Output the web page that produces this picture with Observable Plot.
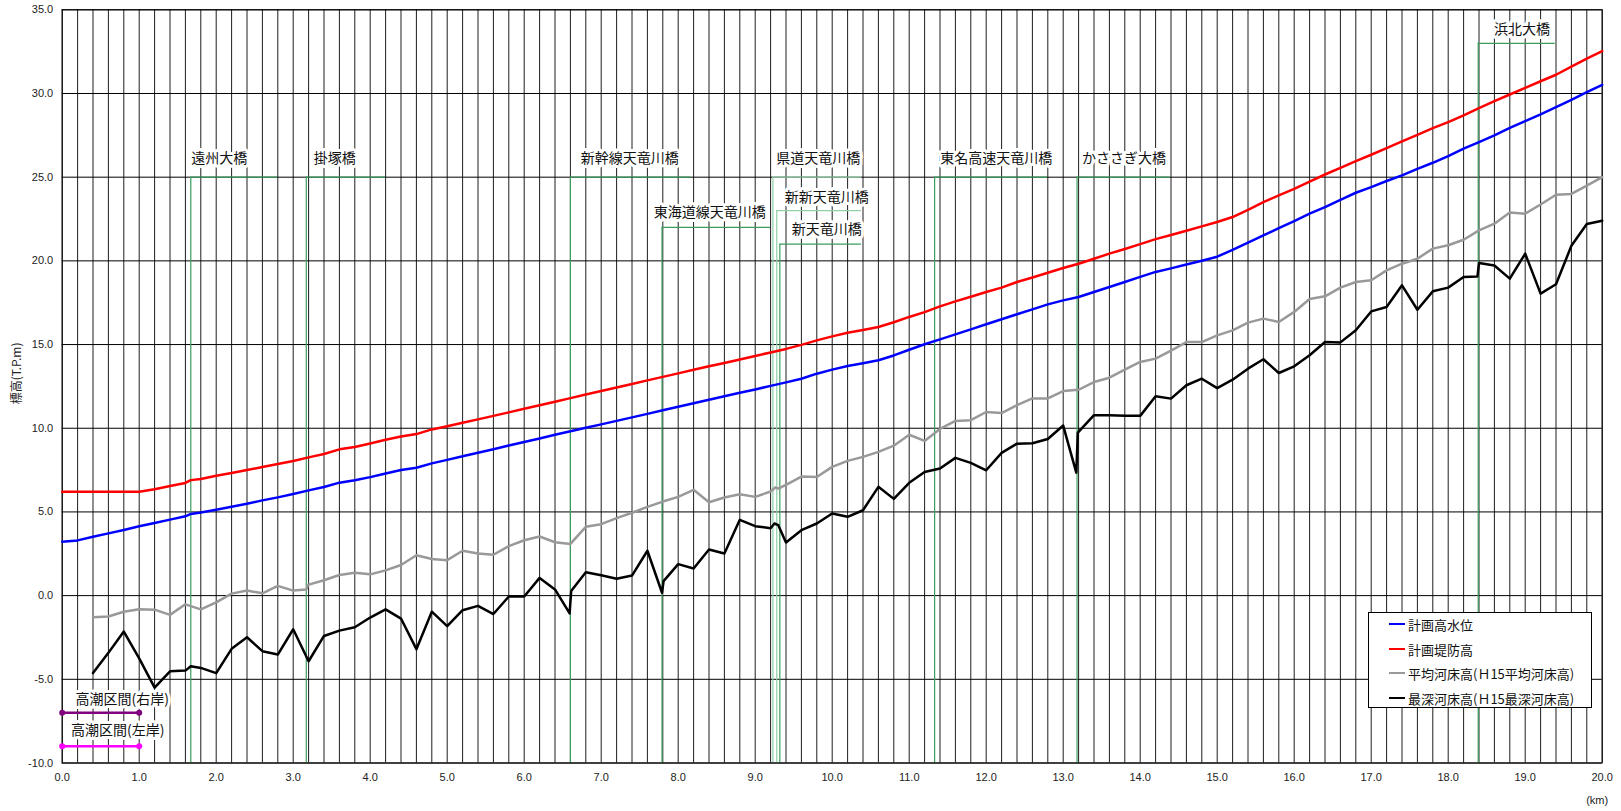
<!DOCTYPE html>
<html><head><meta charset="utf-8">
<script src="https://cdn.jsdelivr.net/npm/d3@7"></script>
<script src="https://cdn.jsdelivr.net/npm/@observablehq/plot@0.6"></script>
<style>
body{margin:0;background:#fff;}
#wrap{position:relative;width:1621px;height:811px;overflow:hidden;background:#fff;}
#legend{position:absolute;left:1368px;top:612px;width:222px;height:94px;border:1px solid #000;background:#fff;font-family:"Noto Sans CJK JP",sans-serif;font-size:13px;color:#111;}
.row{position:absolute;left:20px;height:20px;display:flex;align-items:center;white-space:nowrap;}
.sw{width:16px;height:0;border-top:2.5px solid;margin-right:3px;}
</style></head><body><div id="wrap"><div id="legend"></div></div>
<script>
// ---- axis ticks ----
const xTicks = [0,1,2,3,4,5,6,7,8,9,10,11,12,13,14,15,16,17,18,19,20];
const yTicks = [-10,-5,0,5,10,15,20,25,30,35];
const yDomain = [-10, 35];
const gridKm = d3.range(0, 101).map(i => i / 5);

// ---- 計画高水位 / 計画堤防高 ----
const planKm = [0.0,0.2,0.4,0.6,0.8,1.0,1.2,1.4,1.6,1.67,
 1.8,2.0,2.2,2.4,2.6,2.8,3.0,3.2,3.4,3.6,
 3.8,4.0,4.2,4.4,4.6,4.8,5.0,5.2,5.4,5.6,
 5.8,6.0,6.2,6.4,6.6,6.8,7.0,7.2,7.4,7.6,
 7.8,8.0,8.2,8.4,8.6,8.8,9.0,9.2,9.4,9.6,
 9.8,10.0,10.2,10.4,10.6,10.8,11.0,11.2,11.4,11.6,
 11.8,12.0,12.2,12.4,12.6,12.8,13.0,13.2,13.4,13.6,
 13.8,14.0,14.2,14.4,14.6,14.8,15.0,15.2,15.4,15.6,
 15.8,16.0,16.2,16.4,16.6,16.8,17.0,17.2,17.4,17.6,
 17.8,18.0,18.2,18.4,18.6,18.8,19.0,19.2,19.4,19.6,
 19.8,20.0];
const leveeVals = [6.20,6.20,6.20,6.20,6.20,6.20,6.35,6.55,6.73,6.90,
 6.97,7.16,7.32,7.50,7.68,7.86,8.04,8.26,8.46,8.74,
 8.88,9.09,9.31,9.51,9.65,9.93,10.12,10.33,10.53,10.74,
 10.95,11.16,11.37,11.58,11.80,12.02,12.22,12.43,12.64,12.86,
 13.07,13.28,13.49,13.70,13.90,14.11,14.32,14.53,14.74,14.98,
 15.25,15.49,15.71,15.87,16.05,16.33,16.65,16.94,17.28,17.58,
 17.86,18.14,18.40,18.74,19.01,19.29,19.57,19.83,20.13,20.43,
 20.71,21.00,21.30,21.55,21.80,22.06,22.32,22.62,23.05,23.51,
 23.91,24.30,24.74,25.16,25.56,25.96,26.34,26.74,27.14,27.53,
 27.93,28.29,28.69,29.12,29.54,29.94,30.34,30.73,31.12,31.60,
 32.08,32.53];
const hwlVals = [3.22,3.30,3.52,3.72,3.92,4.14,4.34,4.54,4.74,4.88,
 4.96,5.13,5.31,5.49,5.69,5.87,6.07,6.29,6.49,6.75,
 6.89,7.08,7.30,7.50,7.64,7.90,8.11,8.33,8.54,8.75,
 8.97,9.18,9.39,9.61,9.82,10.03,10.23,10.44,10.65,10.86,
 11.07,11.28,11.49,11.70,11.91,12.12,12.32,12.53,12.74,12.96,
 13.26,13.50,13.72,13.88,14.06,14.35,14.69,15.02,15.31,15.61,
 15.91,16.21,16.51,16.81,17.10,17.40,17.64,17.84,18.14,18.44,
 18.74,19.04,19.34,19.55,19.78,20.01,20.25,20.66,21.09,21.52,
 21.96,22.38,22.82,23.21,23.65,24.07,24.41,24.77,25.11,25.50,
 25.86,26.26,26.70,27.10,27.50,27.95,28.35,28.75,29.18,29.62,
 30.08,30.52];

// ---- 平均河床高 ----
const avgKm = [0.4,0.6,0.8,1.0,1.2,1.4,1.6,1.8,2.0,2.2,
 2.4,2.6,2.8,3.0,3.17,3.19,3.4,3.6,3.8,4.0,
 4.2,4.4,4.6,4.8,5.0,5.2,5.4,5.6,5.8,6.0,
 6.2,6.4,6.6,6.8,7.0,7.2,7.4,7.6,7.8,8.0,
 8.2,8.4,8.6,8.8,9.0,9.2,9.26,9.3,9.4,9.6,
 9.8,10.0,10.2,10.4,10.6,10.8,11.0,11.2,11.4,11.6,
 11.8,12.0,12.2,12.4,12.6,12.8,13.0,13.2,13.4,13.6,
 13.8,14.0,14.2,14.4,14.6,14.8,15.0,15.2,15.4,15.6,
 15.8,16.0,16.2,16.4,16.6,16.8,17.0,17.2,17.4,17.6,
 17.8,18.0,18.2,18.4,18.6,18.8,19.0,19.2,19.4,19.6,
 19.8,20.0];
const avgVals = [-1.29,-1.25,-0.96,-0.82,-0.84,-1.15,-0.52,-0.82,-0.40,0.12,
 0.30,0.14,0.58,0.30,0.36,0.64,0.92,1.23,1.37,1.27,
 1.51,1.83,2.41,2.19,2.12,2.68,2.52,2.44,2.96,3.31,
 3.53,3.19,3.09,4.11,4.27,4.63,4.95,5.30,5.62,5.90,
 6.32,5.58,5.86,6.06,5.90,6.22,6.46,6.40,6.62,7.11,
 7.09,7.69,8.05,8.29,8.59,8.96,9.61,9.24,9.96,10.44,
 10.48,10.97,10.91,11.38,11.78,11.78,12.22,12.30,12.76,13.02,
 13.50,13.96,14.16,14.64,15.15,15.15,15.55,15.85,16.31,16.55,
 16.35,16.95,17.72,17.88,18.40,18.74,18.84,19.43,19.83,20.13,
 20.73,20.93,21.26,21.82,22.22,22.89,22.82,23.37,23.95,24.00,
 24.50,25.00];

// ---- 最深河床高 ----
const deepKm = [0.4,0.6,0.8,1.0,1.2,1.4,1.6,1.67,1.8,2.0,
 2.2,2.4,2.6,2.8,3.0,3.2,3.4,3.6,3.8,4.0,
 4.2,4.4,4.6,4.8,5.0,5.2,5.4,5.6,5.8,6.0,
 6.2,6.4,6.59,6.61,6.8,7.0,7.2,7.4,7.6,7.79,
 7.81,8.0,8.2,8.4,8.6,8.8,9.0,9.2,9.25,9.3,
 9.4,9.6,9.8,10.0,10.2,10.4,10.6,10.8,11.0,11.2,
 11.4,11.6,11.8,12.0,12.2,12.4,12.6,12.8,13.0,13.17,
 13.19,13.4,13.6,13.8,14.0,14.2,14.4,14.6,14.8,15.0,
 15.2,15.4,15.6,15.8,16.0,16.2,16.4,16.6,16.8,17.0,
 17.2,17.4,17.6,17.8,18.0,18.2,18.38,18.4,18.6,18.8,
 19.0,19.2,19.4,19.6,19.8,20.0];
const deepVals = [-4.63,-3.42,-2.15,-3.75,-5.50,-4.52,-4.48,-4.22,-4.32,-4.63,
 -3.18,-2.49,-3.32,-3.52,-2.01,-3.92,-2.41,-2.09,-1.89,-1.31,
 -0.82,-1.37,-3.20,-0.96,-1.82,-0.87,-0.61,-1.10,-0.05,-0.05,
 1.06,0.37,-1.06,0.27,1.40,1.22,1.01,1.20,2.68,0.17,
 0.87,1.88,1.62,2.76,2.52,4.53,4.15,4.03,4.31,4.21,
 3.17,3.91,4.31,4.91,4.71,5.10,6.50,5.78,6.74,7.39,
 7.59,8.23,7.93,7.49,8.53,9.08,9.10,9.36,10.16,7.35,
 9.74,10.78,10.78,10.74,10.74,11.91,11.77,12.57,12.96,12.40,
 12.90,13.56,14.12,13.30,13.70,14.36,15.15,15.13,15.85,16.98,
 17.24,18.54,17.08,18.18,18.40,19.04,19.07,19.87,19.72,18.94,
 20.43,18.04,18.60,20.90,22.20,22.40];

// ---- 橋梁 ----
const bridgeNames = ["遠州大橋","掛塚橋","新幹線天竜川橋","東海道線天竜川橋","県道天竜川橋","新新天竜川橋","新天竜川橋","東名高速天竜川橋","かささぎ大橋","浜北大橋"];
const bridgeKm    = [1.67, 3.17, 6.60, 7.79, 9.23, 9.28, 9.32, 11.33, 13.18, 18.39];
const bridgeLevel = [25, 25, 25, 22, 25, 23, 21, 25, 25, 33];
const bridgeEnd   = [2.80, 4.20, 8.17, 9.20, 10.38, 10.38, 10.38, 12.80, 14.39, 19.39];
const bridgeLabelKm = [2.04, 3.54, 7.37, 8.41, 9.82, 9.93, 9.93, 12.13, 13.79, 18.96];
const bridgeLabelY  = [26.1, 26.1, 26.1, 22.9, 26.1, 23.8, 21.9, 26.1, 26.1, 33.8];
const bridgeColor = ["#3a9d5d","#3a9d5d","#3a9d5d","#3a9d5d","#8fd0a8","#8fd0a8","#3a9d5d","#3a9d5d","#3a9d5d","#3a9d5d"];

// ---- 高潮区間 ----
const stormKm = [0.0, 1.0];
const stormNames = ["高潮区間(右岸)", "高潮区間(左岸)"];
const stormLevel = [-7.0, -9.0];
const stormColor = ["#800080", "#ff00ff"];
const stormLabelKm = [0.78, 0.72];
const stormLabelY = [-6.2, -8.05];

// ---- legend ----
const legendNames = ["計画高水位","計画堤防高","平均河床高(Ｈ15平均河床高)","最深河床高(Ｈ15最深河床高)"];
const legendColors = ["#0000ff","#ff0000","#999999","#000000"];

const levee = planKm.map((k,i) => ({km:k, v:leveeVals[i]}));
const hwl = planKm.map((k,i) => ({km:k, v:hwlVals[i]}));
const avg = avgKm.map((k,i) => ({km:k, v:avgVals[i]}));
const deep = deepKm.map((k,i) => ({km:k, v:deepVals[i]}));
const bridges = bridgeNames.map((n,i) => ({name:n, km:bridgeKm[i], level:bridgeLevel[i], end:bridgeEnd[i], lx:bridgeLabelKm[i], ly:bridgeLabelY[i], color:bridgeColor[i]}));
const storms = stormNames.map((n,i) => ({name:n, level:stormLevel[i], color:stormColor[i], lx:stormLabelKm[i], ly:stormLabelY[i]}));
const stormPts = storms.flatMap(s => stormKm.map(k => ({km:k, v:s.level, color:s.color, name:s.name})));

const CJK = "'Noto Sans CJK JP', sans-serif";

const plot = Plot.plot({
  width: 1621, height: 811,
  marginLeft: 61.7, marginRight: 19.3, marginTop: 9.3, marginBottom: 48.5,
  x: {domain: [0, 20]},
  y: {domain: yDomain},
  color: {type: "identity"},
  style: {fontFamily: "'Liberation Sans', Arial, sans-serif", fontSize: "11px", color: "#222", background: "#fff"},
  marks: [
    Plot.ruleX(gridKm, {stroke: "#1e1e1e", strokeWidth: 1}),
    Plot.ruleY(yTicks, {stroke: "#000", strokeWidth: 1}),
    Plot.ruleX(bridges, {x: "km", y1: yDomain[0], y2: "level", stroke: "color", strokeWidth: 1.2}),
    Plot.ruleY(bridges, {y: "level", x1: "km", x2: "end", stroke: "color", strokeWidth: 1.3}),
    Plot.frame({stroke: "#000"}),
    Plot.line(avg, {x: "km", y: "v", stroke: "#999999", strokeWidth: 2.5}),
    Plot.line(deep, {x: "km", y: "v", stroke: "#000000", strokeWidth: 2.5}),
    Plot.line(hwl, {x: "km", y: "v", stroke: "#0000ff", strokeWidth: 2.5}),
    Plot.line(levee, {x: "km", y: "v", stroke: "#ff0000", strokeWidth: 2.5}),
    Plot.line(stormPts, {x: "km", y: "v", z: "name", stroke: "color", strokeWidth: 2.5}),
    Plot.dot(stormPts, {x: "km", y: "v", fill: "color", r: 3}),
    Plot.text(bridges, {x: "lx", y: "ly", text: "name", fontFamily: CJK, fontSize: 14, fill: "#111", stroke: "white", strokeWidth: 6}),
    Plot.text(storms, {x: "lx", y: "ly", text: "name", fontFamily: CJK, fontSize: 14, fill: "#111", stroke: "white", strokeWidth: 6}),
    Plot.axisX(xTicks, {tickFormat: d => d.toFixed(1), tickSize: 0, tickPadding: 10, label: null}),
    Plot.axisY(yTicks, {tickFormat: d => d.toFixed(1), tickSize: 0, tickPadding: 9, label: null}),
    Plot.text(["標高(T.P.m)"], {frameAnchor: "left", dx: -44.7, dy: -13, rotate: -90, textAnchor: "middle", lineAnchor: "middle", fontFamily: CJK, fontSize: 12, fill: "#222"}),
    Plot.text(["(km)"], {frameAnchor: "bottom-right", dx: -5, dy: 37.5, textAnchor: "middle", lineAnchor: "middle", fontSize: 11, fill: "#222", ariaLabel: "km-label"})
  ]
});

const wrap = document.getElementById("wrap");
wrap.insertBefore(plot, wrap.firstChild);
d3.select(plot).selectAll('g[aria-label="km-label"] text').style("letter-spacing", "2px");

const legend = d3.select("#legend");
const rowTops = [1.3, 26, 50.3, 75];
legendNames.forEach((n, i) => {
  const row = legend.append("div").attr("class", "row").style("top", rowTops[i] + "px");
  row.append("div").attr("class", "sw").style("border-top-color", legendColors[i]);
  row.append("span").text(n);
});
</script></body></html>
